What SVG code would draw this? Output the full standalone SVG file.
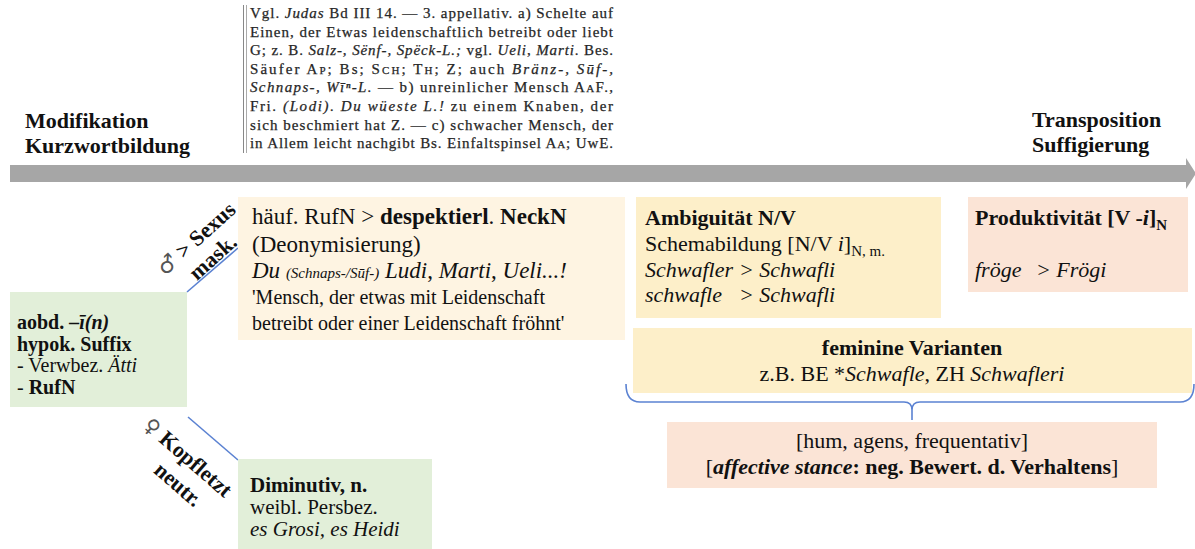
<svg xmlns="http://www.w3.org/2000/svg" width="1195" height="549" viewBox="0 0 1195 549">
<style>
.t{font-family:"Liberation Serif","Times New Roman",serif;fill:#111}
.b{font-weight:bold}
.i{font-style:italic}
.ex{font-family:"Liberation Serif","Times New Roman",serif;font-size:15px;fill:#262626;stroke:#262626;stroke-width:0.25}
.sc{font-size:11px}
.sym{font-family:"DejaVu Sans",sans-serif;font-weight:normal;fill:#555}
.green{fill:#e2efd9}
.cream{fill:#fef4e2}
.yellow{fill:#fdefc9}
.peach{fill:#fbe4d6}
.conn{stroke:#5b82d2;stroke-width:1.6;fill:none}
</style>
<rect width="1195" height="549" fill="#fff"/>

<g id="excerpt">
<rect x="243" y="5" width="1" height="148" fill="#888"/>
<rect x="246" y="5" width="1" height="148" fill="#aaa"/>
<text class="ex" x="250" y="18" textLength="363" lengthAdjust="spacing">Vgl. <tspan class="i">Judas</tspan> Bd III 14. — 3. appellativ.  a) Schelte auf</text>
<text class="ex" x="250" y="36.6" textLength="363" lengthAdjust="spacing">Einen, der Etwas leidenschaftlich betreibt oder liebt</text>
<text class="ex" x="250" y="55.2" textLength="363" lengthAdjust="spacing">G; z. B. <tspan class="i">Salz-, Sënf-, Spëck-L.;</tspan> vgl. <tspan class="i">Ueli</tspan>, <tspan class="i">Marti</tspan>. Bes.</text>
<text class="ex" x="250" y="73.8" textLength="363" lengthAdjust="spacing">Säufer A<tspan class="sc">P</tspan>; Bs; S<tspan class="sc">CH</tspan>; T<tspan class="sc">H</tspan>; Z; auch <tspan class="i">Bränz-, Sūf-,</tspan></text>
<text class="ex" x="250" y="92.4" textLength="363" lengthAdjust="spacing"><tspan class="i">Schnaps-, Wīⁿ-L.</tspan> — b) unreinlicher Mensch A<tspan class="sc">A</tspan>F.,</text>
<text class="ex" x="250" y="111" textLength="363" lengthAdjust="spacing">Fri. <tspan class="i">(Lodi). Du wüeste L.!</tspan> zu einem Knaben, der</text>
<text class="ex" x="250" y="129.6" textLength="363" lengthAdjust="spacing">sich beschmiert hat Z. — c) schwacher Mensch, der</text>
<text class="ex" x="250" y="148.2" textLength="363" lengthAdjust="spacing">in Allem leicht nachgibt Bs. Einfaltspinsel A<tspan class="sc">A</tspan>; UwE.</text>
</g>

<g id="label-left">
<text class="t b" font-size="22" x="25" y="128">Modifikation</text>
<text class="t b" font-size="22" x="25" y="153">Kurzwortbildung</text>
</g>
<g id="label-right">
<text class="t b" font-size="22" x="1032" y="127">Transposition</text>
<text class="t b" font-size="22" x="1032" y="152">Suffigierung</text>
</g>

<g id="axis-arrow">
<rect x="10" y="165" width="1177" height="17" fill="#a6a6a6"/>
<polygon points="1186,158 1196,173.5 1186,189" fill="#a6a6a6"/>
</g>

<g id="connectors">
<line class="conn" x1="187" y1="292" x2="238" y2="248"/>
<line class="conn" x1="188" y1="417" x2="238" y2="460"/>
<path class="conn" d="M626,384 Q626,402 640,402 L904,402 Q912,402 912,410 L912,420 M912,410 Q912,402 920,402 L1180,402 Q1194,402 1194,384"/>
</g>

<g id="label-masc">
<g transform="translate(201,244) rotate(-42)">
<text class="t b" font-size="22" text-anchor="middle" x="0" y="0"><tspan class="sym">♂</tspan> &gt; Sexus</text>
<text class="t b" font-size="22" text-anchor="middle" x="0" y="25">mask.</text>
</g>
</g>
<g id="label-fem">
<g transform="translate(195,465) rotate(41)">
<text class="t b" font-size="22" text-anchor="middle" x="0" y="6">Kopfletzt</text>
<text class="sym" font-size="20" text-anchor="end" x="-50" y="6">♀</text>
<text class="t b" font-size="22" text-anchor="middle" x="0" y="33">neutr.</text>
</g>
</g>

<g id="node-suffix">
<rect class="green" x="10" y="292" width="177" height="115"/>
<text class="t b" font-size="20" x="17" y="329">aobd. <tspan class="i">–ī(n)</tspan></text>
<text class="t b" font-size="20" x="17" y="350.5">hypok. Suffix</text>
<text class="t" font-size="20" x="17" y="372">- Verwbez. <tspan class="i">Ätti</tspan></text>
<text class="t" font-size="20" x="17" y="393.5">- <tspan class="b">RufN</tspan></text>
</g>

<g id="node-neckn">
<rect class="cream" x="238" y="197" width="387" height="143"/>
<text class="t" font-size="23" x="252" y="224">häuf. RufN &gt; <tspan class="b">despektierl</tspan>. <tspan class="b">NeckN</tspan></text>
<text class="t" font-size="23" x="252" y="252">(Deonymisierung)</text>
<text class="t" font-size="23" x="252" y="278"><tspan class="i">Du </tspan><tspan class="i" font-size="15">(Schnaps-/Sūf-)</tspan><tspan class="i"> Ludi</tspan>, <tspan class="i">Marti</tspan>, <tspan class="i">Ueli...!</tspan></text>
<text class="t" font-size="20" x="252" y="304">'Mensch, der etwas mit Leidenschaft</text>
<text class="t" font-size="20" x="252" y="330">betreibt oder einer Leidenschaft fröhnt'</text>
</g>

<g id="node-ambig">
<rect class="yellow" x="636" y="197" width="305" height="121"/>
<text class="t b" font-size="22" x="645" y="225">Ambiguität N/V</text>
<text class="t" font-size="22" x="645" y="251">Schemabildung [N/V <tspan class="i">i</tspan>]<tspan font-size="15" dy="5">N, m.</tspan></text>
<text class="t i" font-size="22" x="645" y="277">Schwafler <tspan x="739">&gt; Schwafli</tspan></text>
<text class="t i" font-size="22" x="645" y="302">schwafle <tspan x="739">&gt; Schwafli</tspan></text>
</g>

<g id="node-produkt">
<rect class="peach" x="968" y="197" width="220" height="95"/>
<text class="t b" font-size="22" x="975" y="225">Produktivität [V -<tspan class="i">i</tspan>]<tspan font-size="15" dy="5">N</tspan></text>
<text class="t i" font-size="22" x="975" y="277">fröge <tspan x="1036">&gt; Frögi</tspan></text>
</g>

<g id="node-feminin">
<rect class="yellow" x="633" y="328" width="559" height="65"/>
<text class="t b" font-size="22" x="912" y="355" text-anchor="middle">feminine Varianten</text>
<text class="t" font-size="22" x="912" y="381" text-anchor="middle">z.B. BE *<tspan class="i">Schwafle</tspan>, ZH <tspan class="i">Schwafleri</tspan></text>
</g>

<g id="node-features">
<rect class="peach" x="667" y="422" width="490" height="66"/>
<text class="t" font-size="22" x="912" y="448" text-anchor="middle">[hum, agens, frequentativ]</text>
<text class="t" font-size="22" x="912" y="474" text-anchor="middle">[<tspan class="b i">affective stance</tspan><tspan class="b">: neg. Bewert. d. Verhaltens</tspan>]</text>
</g>

<g id="node-diminutiv">
<rect class="green" x="238" y="459" width="194" height="91"/>
<text class="t b" font-size="21" x="250" y="492">Diminutiv, n.</text>
<text class="t" font-size="21" x="250" y="514">weibl. Persbez.</text>
<text class="t i" font-size="21" x="250" y="536">es Grosi, es Heidi</text>
</g>
</svg>
